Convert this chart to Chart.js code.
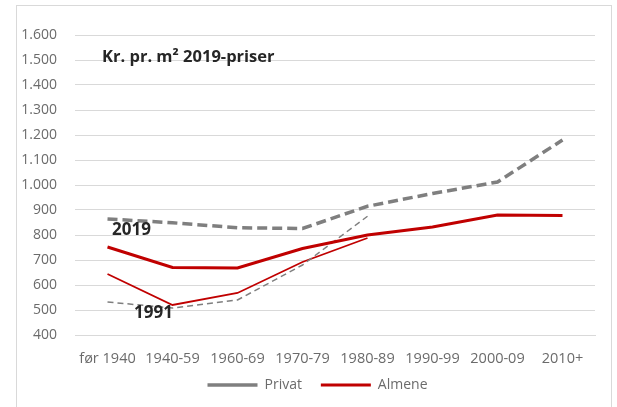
<!DOCTYPE html>
<html><head><meta charset="utf-8">
<script src="https://cdn.jsdelivr.net/npm/chart.js@4"></script>
<style>html,body{margin:0;padding:0;background:#fff}#wrap{width:617px;height:407px}</style>
</head><body><div id="wrap"><canvas id="c" width="617" height="407"></canvas></div>
<script>
const categories = ["før 1940","1940-59","1960-69","1970-79","1980-89","1990-99","2000-09","2010+"];
const privat2019 = [864, 849, 829, 826, 915, 966, 1012, 1180];
const almene2019 = [752, 670, 668, 746, 800, 832, 880, 878];
const privat1991 = [532, 508, 540, 680, 875, null, null, null];
const almene1991 = [644, 520, 568, 692, 788, null, null, null];
const yTicks = [400,500,600,700,800,900,1000,1100,1200,1300,1400,1500,1600];
const titleText = "Kr. pr. m² 2019-priser";
const annotations = [{text:"2019", cat:0, value:820, dx:24},{text:"1991", cat:1, value:488, dx:-19}];

const GRAY = "#7f7f7f", RED = "#c00000", TXT = "#6b6b6b";
const FONT = "'Open Sans', 'Liberation Sans', Arial, sans-serif";

const fmt = v => v >= 1000 ? Math.floor(v/1000) + "." + String(v%1000).padStart(3,"0") : String(v);

const overlay = {
  id: "overlay",
  beforeDraw(chart) {
    const ctx = chart.ctx;
    ctx.save();
    ctx.strokeStyle = "#d9d9d9"; ctx.lineWidth = 1;
    ctx.strokeRect(16.5, 5.5, 595, 420);
    ctx.restore();
  },
  afterDatasetsDraw(chart) {
    const ctx = chart.ctx, x = chart.scales.x, y = chart.scales.y;
    ctx.save();
    ctx.fillStyle = "#262626";
    ctx.font = "bold 16.5px " + FONT;
    ctx.textBaseline = "middle"; ctx.textAlign = "left";
    ctx.fillText(titleText, chart.chartArea.left + 27, y.getPixelForValue(1512));
    ctx.font = "bold 17px " + FONT; ctx.textAlign = "center";
    annotations.forEach(a => ctx.fillText(a.text, x.getPixelForValue(a.cat) + a.dx, y.getPixelForValue(a.value)));
    ctx.restore();
  }
};

new Chart(document.getElementById("c"), {
  type: "line",
  data: {
    labels: categories,
    datasets: [
      {label:"Privat", data: privat2019, borderColor: GRAY, backgroundColor: GRAY, borderWidth: 3.5, borderDash:[10,5], pointRadius:0, tension:0},
      {label:"Almene", data: almene2019, borderColor: RED, backgroundColor: RED, borderWidth: 3, pointRadius:0, tension:0},
      {label:"Privat 1991", data: privat1991, borderColor: GRAY, backgroundColor: GRAY, borderWidth: 1.5, borderDash:[6,4], pointRadius:0, tension:0},
      {label:"Almene 1991", data: almene1991, borderColor: RED, backgroundColor: RED, borderWidth: 1.8, pointRadius:0, tension:0}
    ]
  },
  options: {
    responsive: false, animation: false,
    layout: {padding: {left: 18, right: 0, top: 35, bottom: 5}},
    plugins: {
      tooltip: {enabled:false},
      legend: {
        position: "bottom",
        labels: {
          usePointStyle: true, pointStyle: "line", pointStyleWidth: 50,
          color: TXT, font: {family: FONT, size: 14}, padding: 8,
          filter: item => item.datasetIndex < 2,
          generateLabels: chart => {
            const items = Chart.defaults.plugins.legend.labels.generateLabels(chart);
            items.forEach(it => { if (it.datasetIndex === 0) it.text = it.text + "\u00a0\u00a0\u00a0"; });
            return items;
          }
        }
      }
    },
    scales: {
      x: {
        offset: true,
        afterFit: s => { s.height = 35; },
        grid: {display: false, drawTicks: false},
        border: {display: true, color: "#d9d9d9"},
        ticks: {color: TXT, font: {family: FONT, size: 14.5}, padding: 15, maxRotation: 0, autoSkip: false}
      },
      y: {
        min: 400, max: 1600,
        afterBuildTicks: s => { s.ticks = yTicks.map(v => ({value: v})); },
        afterFit: s => { s.width = 57; },
        grid: {color: "#d9d9d9", drawTicks: false},
        border: {display: false},
        ticks: {color: TXT, font: {family: FONT, size: 14}, padding: 18, callback: v => fmt(v)}
      },
      yr: {
        position: "right", min: 0, max: 1,
        afterFit: s => { s.width = 22; },
        grid: {display: false, drawTicks: false},
        border: {display: false},
        ticks: {display: false}
      }
    }
  },
  plugins: [overlay]
});
</script>
</body></html>
